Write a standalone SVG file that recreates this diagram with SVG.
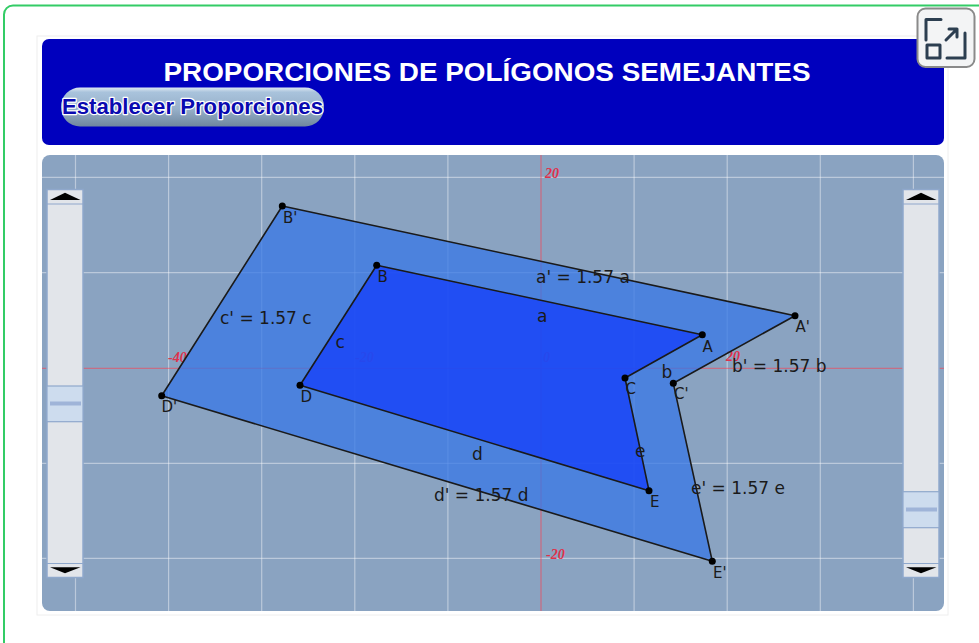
<svg xmlns="http://www.w3.org/2000/svg" width="979" height="643" viewBox="0 0 979 643">
<defs>
<style>
.grid{stroke:#ffffff;stroke-opacity:0.42;stroke-width:1.2}
.axis{stroke:#ff3a4a;stroke-opacity:0.5;stroke-width:1.3}
.ax{font-family:"Liberation Serif",serif;font-style:italic;font-weight:bold;font-size:14px;fill:#e0304a}
.pt{fill:#000}
.pl{font-family:"DejaVu Sans",sans-serif;font-size:15px;fill:#1a1a1a}
.el{font-family:"DejaVu Sans",sans-serif;font-size:17px;fill:#1a1a1a}
.edge{stroke:#1a1a1a;stroke-width:1.6;stroke-linejoin:round}
.sl{fill:#e2e5ea;stroke:#8fa8cc;stroke-width:1.5}
.thumb{fill:#cddcee;stroke:#8fa8cc;stroke-width:1.2}
.bar{fill:#9fb4d8}
</style>
<linearGradient id="btn" x1="0" y1="0" x2="0" y2="1">
<stop offset="0" stop-color="#dfe9f2"/>
<stop offset="0.12" stop-color="#a9c3dc"/>
<stop offset="0.55" stop-color="#97b0c9"/>
<stop offset="1" stop-color="#6f869e"/>
</linearGradient>
<clipPath id="gclip"><rect x="42" y="155" width="902" height="456" rx="8"/></clipPath>
</defs>

<rect x="4" y="5.5" width="990" height="660" rx="9" fill="#ffffff" stroke="#33cc66" stroke-width="2"/>
<rect x="37" y="36" width="911" height="579" fill="#ffffff" stroke="#eeeeee" stroke-width="1"/>

<g id="header">
<rect x="42" y="39" width="902" height="106" rx="7" fill="#0000be"/>
<text x="487" y="81" text-anchor="middle" font-family="'Liberation Sans',Arial,sans-serif" font-weight="bold" font-size="25" fill="#ffffff" textLength="647" lengthAdjust="spacingAndGlyphs">PROPORCIONES DE POLÍGONOS SEMEJANTES</text>
</g>

<g id="button">
<rect x="61" y="87.5" width="263" height="39" rx="19" fill="url(#btn)"/>
<text x="62" y="113.5" font-family="'Liberation Sans',Arial,sans-serif" font-weight="bold" font-size="21.5" fill="#0a0ab0" stroke="#ffffff" stroke-width="2.4" stroke-linejoin="round" paint-order="stroke" textLength="261" lengthAdjust="spacingAndGlyphs">Establecer Proporciones</text>
</g>

<g id="expand-icon">
<rect x="917.5" y="8.5" width="57" height="58.5" rx="8" fill="#f3f4f5" stroke="#8a8a8a" stroke-width="2"/>
<g fill="none" stroke="#2c3e50" stroke-width="3" stroke-linecap="round" stroke-linejoin="round">
<path d="M926 40 V19.5 H941"/>
<rect x="927" y="45" width="13" height="13"/>
<path d="M947 58 H965 V33"/>
<path d="M946 40 L957 29 M949 29 H957 V37"/>
</g>
</g>

<g id="graph">
<rect x="42" y="155" width="902" height="456" rx="8" fill="#8aa3c1"/>
<g clip-path="url(#gclip)">
<g class="grid">
<line x1="75.5" y1="155" x2="75.5" y2="611"/>
<line x1="168.6" y1="155" x2="168.6" y2="611"/>
<line x1="261.7" y1="155" x2="261.7" y2="611"/>
<line x1="354.8" y1="155" x2="354.8" y2="611"/>
<line x1="447.9" y1="155" x2="447.9" y2="611"/>
<line x1="634.1" y1="155" x2="634.1" y2="611"/>
<line x1="727.2" y1="155" x2="727.2" y2="611"/>
<line x1="820.3" y1="155" x2="820.3" y2="611"/>
<line x1="913.4" y1="155" x2="913.4" y2="611"/>
<line x1="42" y1="177.3" x2="944" y2="177.3"/>
<line x1="42" y1="272.7" x2="944" y2="272.7"/>
<line x1="42" y1="463.3" x2="944" y2="463.3"/>
<line x1="42" y1="558.3" x2="944" y2="558.3"/>
</g>
<g class="axis">
<line x1="42" y1="368.3" x2="944" y2="368.3"/>
<line x1="541" y1="155" x2="541" y2="611"/>
</g>
<g class="ax">
<text x="545" y="178">20</text>
<text x="546" y="559">-20</text>
<text x="168" y="362">-40</text>
<text x="355" y="362">-20</text>
<text x="726" y="361">20</text>
<text x="543" y="362">0</text>
</g>
</g>
</g>

<g id="polygon-outer">
<polygon class="edge" points="795,315.7 282.3,206 161.7,395.7 712.3,561.3 673.3,383.3" fill="#3777e6" fill-opacity="0.75"/>
</g>
<g id="polygon-inner">
<polygon class="edge" points="702.3,334.7 376.7,265.3 300,385.3 649,490.7 625,378" fill="#1640f8" fill-opacity="0.78"/>
</g>

<g id="points">
<circle class="pt" cx="795" cy="315.7" r="3.5"/>
<circle class="pt" cx="282.3" cy="206" r="3.5"/>
<circle class="pt" cx="161.7" cy="395.7" r="3.5"/>
<circle class="pt" cx="712.3" cy="561.3" r="3.5"/>
<circle class="pt" cx="673.3" cy="383.3" r="3.5"/>
<circle class="pt" cx="702.3" cy="334.7" r="3.5"/>
<circle class="pt" cx="376.7" cy="265.3" r="3.5"/>
<circle class="pt" cx="300" cy="385.3" r="3.5"/>
<circle class="pt" cx="649" cy="490.7" r="3.5"/>
<circle class="pt" cx="625" cy="378" r="3.5"/>
</g>

<g id="point-labels" class="pl">
<text x="283" y="223">B'</text>
<text x="377.5" y="282">B</text>
<text x="161.5" y="412">D'</text>
<text x="300.5" y="401.5">D</text>
<text x="795.5" y="332">A'</text>
<text x="702.5" y="351.5">A</text>
<text x="674" y="399">C'</text>
<text x="625.5" y="394">C</text>
<text x="650" y="507">E</text>
<text x="713" y="577.5">E'</text>
</g>

<g id="edge-labels" class="el">
<text x="536" y="283.3">a' = 1.57 a</text>
<text x="537" y="321.7">a</text>
<text x="661.5" y="378.3">b</text>
<text x="732" y="371.7">b' = 1.57 b</text>
<text x="220" y="324">c' = 1.57 c</text>
<text x="335.5" y="348.3">c</text>
<text x="472" y="460">d</text>
<text x="434" y="500.7">d' = 1.57 d</text>
<text x="635" y="456.7">e</text>
<text x="691" y="494">e' = 1.57 e</text>
</g>

<g id="slider-left">
<rect class="sl" x="47" y="189.5" width="36" height="388"/>
<line x1="47" y1="204" x2="83" y2="204" stroke="#8fa8cc" stroke-width="1.2"/>
<line x1="47" y1="563.5" x2="83" y2="563.5" stroke="#8fa8cc" stroke-width="1.2"/>
<polygon points="65,192.7 50,200 80.5,200" fill="#000"/>
<polygon points="65,573.3 50,567.3 80.5,567.3" fill="#000"/>
<rect class="thumb" x="47" y="386" width="36" height="35.7"/>
<rect class="bar" x="50" y="401.5" width="31" height="4"/>
</g>

<g id="slider-right">
<rect class="sl" x="903" y="189.5" width="36" height="388"/>
<line x1="903" y1="204" x2="939" y2="204" stroke="#8fa8cc" stroke-width="1.2"/>
<line x1="903" y1="563.5" x2="939" y2="563.5" stroke="#8fa8cc" stroke-width="1.2"/>
<polygon points="921,192.7 906,200 936.5,200" fill="#000"/>
<polygon points="921,573.3 906,567.3 936.5,567.3" fill="#000"/>
<rect class="thumb" x="903" y="491.7" width="36" height="36"/>
<rect class="bar" x="906" y="507.5" width="31" height="4"/>
</g>
</svg>
